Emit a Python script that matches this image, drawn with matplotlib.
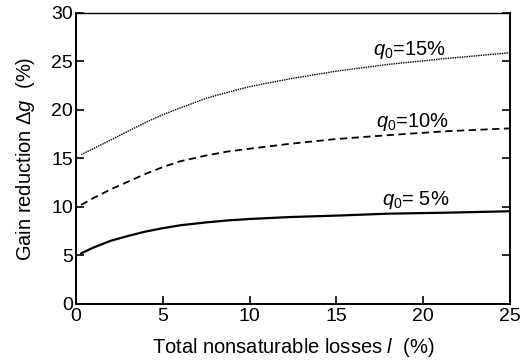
import matplotlib.pyplot as plt

plt.rcParams['font.family'] = ['Liberation Sans', 'DejaVu Sans']
plt.rcParams['mathtext.fontset'] = 'custom'
plt.rcParams['mathtext.rm'] = 'Liberation Sans'
plt.rcParams['mathtext.it'] = 'Liberation Sans:italic'

# Verluste l (%) und Verstärkungsreduktion für drei q0-Werte
loss = [0.3, 1, 2, 3, 4, 5, 6, 7.5, 8.7, 10, 12.3, 15, 18, 21.3, 25]
dg_q5 = [5.2, 5.8, 6.5, 7.0, 7.45, 7.8, 8.1, 8.4, 8.6, 8.75, 8.95, 9.1, 9.3, 9.4, 9.55]
dg_q10 = [10.2, 10.9, 11.8, 12.6, 13.4, 14.1, 14.7, 15.3, 15.7, 16.0, 16.5, 17.0, 17.4, 17.8, 18.1]
dg_q15 = [15.4, 16.0, 16.9, 17.8, 18.7, 19.5, 20.2, 21.2, 21.8, 22.4, 23.2, 24.0, 24.7, 25.3, 25.9]

labels = [r'$q_0$= 5%', r'$q_0$=10%', r'$q_0$=15%']
label_pos = [(17.6, 10.2), (17.3, 18.2), (17.1, 25.7)]

fig = plt.figure(figsize=(5.27, 3.6), dpi=100)
ax = fig.add_axes([0.144, 0.156, 0.824, 0.808])

ax.plot(loss, dg_q5, color='black', linewidth=1.6, linestyle='-')
ax.plot(loss, dg_q10, color='black', linewidth=1.3, linestyle=(0, (4, 2.5)))
ax.plot(loss, dg_q15, color='black', linewidth=1.0, linestyle=(0, (1, 0.7)))

for text, (x, y) in zip(labels, label_pos):
    ax.text(x, y, text, fontsize=14.5, ha='left', va='baseline')

ax.set_xlim(0, 25)
ax.set_ylim(0, 30)
ax.set_xticks([0, 5, 10, 15, 20, 25])
ax.set_yticks([0, 5, 10, 15, 20, 25, 30])
ax.tick_params(direction='in', length=6, width=1.2, labelsize=14, right=True, top=False)
ax.tick_params(axis='x', pad=3)
ax.tick_params(axis='y', pad=2)

for side in ['left', 'bottom', 'right']:
    ax.spines[side].set_linewidth(1.4)
ax.spines['top'].set_linewidth(1.0)

ax.set_xlabel(r'Total nonsaturable losses $l$  (%)', fontsize=14.5, labelpad=8)
ax.set_ylabel(r'Gain reduction $\Delta g$  (%)', fontsize=14.5, labelpad=10)

plt.savefig('out.png', dpi=100)
